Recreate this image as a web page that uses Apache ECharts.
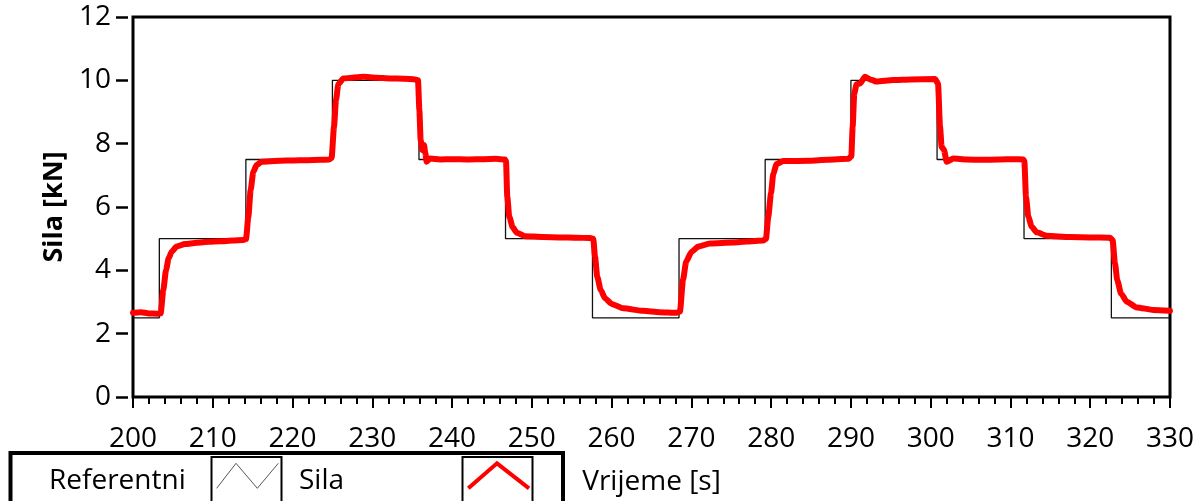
<!DOCTYPE html>
<html>
<head>
<meta charset="utf-8">
<script src="https://cdn.jsdelivr.net/npm/echarts@6/dist/echarts.min.js"></script>
<style>
html,body{margin:0;padding:0;background:#fff;}
#chart{width:1201px;height:501px;}
</style>
</head>
<body>
<div id="chart"></div>
<script>
// ---- data ----
var xTicks = [200, 210, 220, 230, 240, 250, 260, 270, 280, 290, 300, 310, 320, 330];
var yTicks = [0, 2, 4, 6, 8, 10, 12];

// reference (step) signal: value holds from time[i] until time[i+1]
var refTime  = [200, 203.3, 214.15, 225.0, 235.85, 246.7, 257.6, 268.45, 279.25, 290.0, 300.8, 311.7, 322.65, 330];
var refValue = [2.5, 5.0,   7.5,    10.0,  7.5,    5.0,   2.5,   5.0,    7.5,    10.0,  7.5,   5.0,   2.5,    2.5];

// measured force
var silaTime = [
  200.0, 201.0, 202.0, 203.0, 203.47, 203.8, 204.14, 204.47, 204.85, 205.47, 206.52, 207.98, 209.5, 210.9, 212.5, 213.83,
  214.17, 214.46, 214.75, 215.08, 215.5, 216.13, 218.43, 220.0, 221.77, 223.5, 224.6,
  224.9, 225.2, 225.45, 225.74, 226.37, 227.5, 228.87, 230.5, 232.2, 234.0, 235.35,
  235.73, 235.9, 236.06, 236.27, 236.48, 236.65, 236.81, 237.23, 238.5, 240.0, 242.0, 244.0, 245.5, 246.63,
  246.76, 246.92, 247.17, 247.6, 248.1, 249.14, 251.44, 253.5, 255.5, 257.3,
  257.7, 257.92, 258.2, 258.63, 259.17, 260.0, 261.47, 263.97, 266.0, 268.15,
  268.57, 268.95, 269.35, 270.03, 270.87, 272.33, 275.25, 277.0, 279.0,
  279.35, 279.64, 279.98, 280.27, 280.69, 281.52, 284.87, 287.0, 289.67,
  290.05, 290.22, 290.42, 290.72, 291.14, 291.76, 292.5, 293.23, 295.31, 297.5, 300.54,
  300.92, 301.17, 301.37, 301.67, 302.0, 302.83, 304.5, 306.5, 308.5, 310.5, 311.6,
  311.74, 311.95, 312.24, 312.66, 313.28, 314.54, 317.46, 320.0, 322.48,
  322.81, 323.1, 323.39, 323.86, 324.57, 325.82, 327.91, 330.0
];
var silaValue = [
  2.66, 2.68, 2.64, 2.63, 2.64, 3.38, 4.01, 4.38, 4.59, 4.75, 4.83, 4.87, 4.90, 4.92, 4.94, 4.96,
  4.99, 5.69, 6.54, 7.11, 7.33, 7.43, 7.46, 7.47, 7.48, 7.49, 7.50,
  7.55, 8.54, 9.38, 9.88, 10.06, 10.08, 10.11, 10.08, 10.06, 10.05, 10.03,
  10.00, 9.06, 8.11, 7.80, 7.96, 7.70, 7.43, 7.53, 7.50, 7.51, 7.50, 7.51, 7.52, 7.50,
  7.45, 6.32, 5.69, 5.36, 5.19, 5.08, 5.05, 5.04, 5.03, 5.02,
  5.00, 4.43, 3.80, 3.38, 3.12, 2.94, 2.80, 2.72, 2.68, 2.66,
  2.70, 3.70, 4.28, 4.59, 4.75, 4.85, 4.88, 4.91, 4.94,
  5.00, 5.69, 6.43, 7.06, 7.36, 7.45, 7.46, 7.49, 7.52,
  7.60, 8.54, 9.59, 9.88, 9.90, 10.11, 10.02, 9.96, 10.01, 10.03, 10.04,
  9.90, 8.54, 7.90, 7.80, 7.43, 7.53, 7.50, 7.49, 7.50, 7.51, 7.50,
  7.45, 6.32, 5.69, 5.38, 5.20, 5.09, 5.05, 5.04, 5.03,
  4.95, 4.22, 3.69, 3.27, 3.01, 2.83, 2.75, 2.72
];

var seriesNames = ['Referentni', 'Sila'];
var axisNames = ['Vrijeme [s]', 'Sila [kN]'];

// ---- chart ----
var FONT = "'Open Sans', 'Noto Sans', 'DejaVu Sans', sans-serif";
var chart = echarts.init(document.getElementById('chart'), null, {renderer: 'canvas'});

function pairs(t, v) { return t.map(function (x, i) { return [x, v[i]]; }); }

var option = {
  animation: false,
  backgroundColor: '#fff',
  grid: {
    left: 133, right: 31, top: 17, bottom: 104,
    show: true, borderColor: '#000', borderWidth: 3, backgroundColor: '#fff'
  },
  xAxis: {
    type: 'value',
    min: xTicks[0], max: xTicks[xTicks.length - 1], interval: xTicks[1] - xTicks[0],
    offset: 5,
    axisLine: {show: false},
    axisTick: {show: true, length: 11, lineStyle: {color: '#000', width: 2}},
    minorTick: {show: true, splitNumber: 5, length: 7, lineStyle: {color: '#000', width: 2}},
    splitLine: {show: false},
    minorSplitLine: {show: false},
    axisLabel: {fontSize: 28, color: '#000', margin: 23, fontFamily: FONT},
    name: axisNames[0], nameLocation: 'middle', nameGap: 66,
    nameTextStyle: {fontSize: 28, color: '#000', fontFamily: FONT}
  },
  yAxis: {
    type: 'value',
    min: yTicks[0], max: yTicks[yTicks.length - 1], interval: yTicks[1] - yTicks[0],
    offset: 5,
    axisLine: {show: false},
    axisTick: {show: true, length: 12, lineStyle: {color: '#000', width: 2.5}},
    splitLine: {show: false},
    axisLabel: {fontSize: 28, color: '#000', margin: 17, fontFamily: FONT, padding: [6, 0, 0, 0]},
    name: axisNames[1], nameLocation: 'middle', nameGap: 58,
    nameTextStyle: {fontSize: 27, fontWeight: 'bold', color: '#000', fontFamily: FONT}
  },
  series: [
    {
      name: seriesNames[0], type: 'line', step: 'end',
      data: pairs(refTime, refValue),
      showSymbol: false, symbol: 'none',
      lineStyle: {color: '#111', width: 1.3},
      z: 2
    },
    {
      name: seriesNames[1], type: 'line',
      data: pairs(silaTime, silaValue),
      showSymbol: false, symbol: 'none',
      smooth: 0.2, smoothMonotone: 'x',
      lineStyle: {color: '#ff0000', width: 6, join: 'round', cap: 'round'},
      z: 3
    }
  ],
  graphic: [
    {type: 'rect', shape: {x: 10.5, y: 453, width: 552.5, height: 80},
     style: {fill: 'none', stroke: '#000', lineWidth: 4}, silent: true},
    {type: 'text', x: 49, y: 481,
     style: {text: seriesNames[0], font: '28px ' + FONT, fill: '#000', verticalAlign: 'middle', align: 'left'}},
    {type: 'rect', shape: {x: 211.5, y: 457, width: 70, height: 60},
     style: {fill: '#fff', stroke: '#000', lineWidth: 2}},
    {type: 'polyline', shape: {points: [[216.7, 488.3], [236, 463.3], [257.3, 488.3], [278.3, 463.3]]},
     style: {stroke: '#555', lineWidth: 1, fill: 'none'}},
    {type: 'text', x: 299, y: 481,
     style: {text: seriesNames[1], font: '28px ' + FONT, fill: '#000', verticalAlign: 'middle', align: 'left'}},
    {type: 'rect', shape: {x: 462.5, y: 457, width: 70, height: 60},
     style: {fill: '#fff', stroke: '#000', lineWidth: 2}},
    {type: 'polyline', shape: {points: [[468.3, 488.3], [497, 463.3], [529, 488.3]]},
     style: {stroke: '#ff0000', lineWidth: 4, fill: 'none'}}
  ]
};
chart.setOption(option);
</script>
</body>
</html>
